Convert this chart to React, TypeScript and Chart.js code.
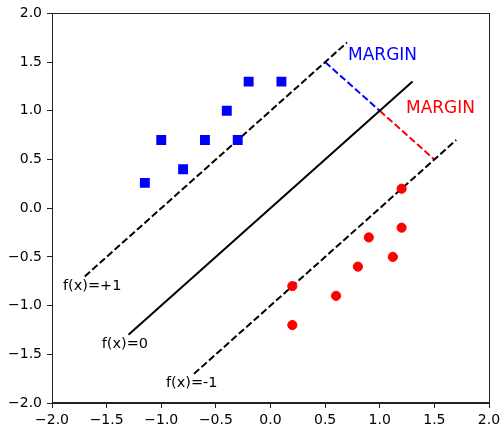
import React, { useEffect, useRef } from "react";
import { Chart, registerables } from "chart.js";

Chart.register(...registerables);

// Class +1 (blue squares)
const blueX = [-1.15, -1.0, -0.8, -0.6, -0.4, -0.3, -0.2, 0.1];
const blueY = [0.26, 0.7, 0.4, 0.7, 1.0, 0.7, 1.3, 1.3];
// Class -1 (red circles)
const redX = [0.2, 0.2, 0.6, 0.8, 0.9, 1.12, 1.2, 1.2];
const redY = [-0.8, -1.2, -0.9, -0.6, -0.3, -0.5, -0.2, 0.2];
// Decision boundary f(x)=0 and margins f(x)=+1, f(x)=-1
const zeroX = [-1.3, 1.3];
const zeroY = [-1.3, 1.3];
const plusX = [-1.7, 0.7];
const plusY = [-0.7, 1.7];
const minusX = [-0.7, 1.7];
const minusY = [-1.7, 0.7];
// Margin segments
const marginBlueX = [0.5, 1.0];
const marginBlueY = [1.5, 1.0];
const marginRedX = [1.0, 1.5];
const marginRedY = [1.0, 0.5];
// Tick values
const tickValues = [-2.0, -1.5, -1.0, -0.5, 0.0, 0.5, 1.0, 1.5, 2.0];
// Text annotations (data coordinates)
const noteTexts = ["f(x)=+1", "f(x)=0", "f(x)=-1", "MARGIN", "MARGIN"];
const noteX = [-1.9, -1.545, -0.957, 0.71, 1.24];
const noteY = [-0.8, -1.395, -1.8, 1.57, 1.02];
const noteColors = ["#000000", "#000000", "#000000", "#0000ff", "#ff0000"];
const noteSizes = [14.5, 14.5, 14.5, 17, 17];

const zip = (xs: number[], ys: number[]) => xs.map((x, i) => ({ x, y: ys[i] }));
const fmt = (v: number) => (v < 0 ? "\u2212" : "") + Math.abs(v).toFixed(1);

const FONT = "'DejaVu Sans', sans-serif";

export default function App() {
  const ref = useRef<HTMLCanvasElement | null>(null);

  useEffect(() => {
    if (!ref.current) return;

    const framePlugin = {
      id: "frame",
      afterDraw(chart: any) {
        const { ctx, chartArea } = chart;
        ctx.save();
        ctx.strokeStyle = "#222";
        ctx.lineWidth = 1;
        ctx.strokeRect(
          Math.round(chartArea.left) + 0.5,
          Math.round(chartArea.top) + 0.5,
          Math.round(chartArea.right - chartArea.left),
          Math.round(chartArea.bottom - chartArea.top) - 1
        );
        ctx.restore();
      },
    };

    const notesPlugin = {
      id: "notes",
      afterDatasetsDraw(chart: any) {
        const { ctx } = chart;
        const xs = chart.scales.x;
        const ys = chart.scales.y;
        ctx.save();
        ctx.textAlign = "left";
        ctx.textBaseline = "middle";
        noteTexts.forEach((t, i) => {
          ctx.font = `${noteSizes[i]}px ${FONT}`;
          ctx.fillStyle = noteColors[i];
          ctx.fillText(t, xs.getPixelForValue(noteX[i]), ys.getPixelForValue(noteY[i]));
        });
        ctx.restore();
      },
    };

    const lineDs = (data: any[], color: string, dashed: boolean) => ({
      type: "line" as const,
      data,
      borderColor: color,
      borderWidth: 2,
      borderDash: dashed ? [7, 3] : [],
      pointRadius: 0,
      showLine: true,
      fill: false,
      tension: 0,
      order: 2,
    });

    const scaleOpts = (axis: "x" | "y") => ({
      type: "linear" as const,
      min: -2,
      max: 2,
      afterBuildTicks: (scale: any) => {
        scale.ticks = tickValues.map((v) => ({ value: v }));
      },
      afterFit: (scale: any) => {
        if (axis === "y") scale.width = 52;
        else {
          scale.height = 24;
          scale.paddingRight = 0;
          scale.paddingLeft = 0;
        }
      },
      grid: {
        display: true,
        drawOnChartArea: false,
        drawTicks: true,
        tickLength: 5,
        tickWidth: 1,
        tickColor: "#222",
        color: "#222",
      },
      border: { display: true, color: "#222", width: 1 },
      ticks: {
        color: "#000",
        font: { family: FONT, size: 14 },
        padding: axis === "y" ? 5 : 4,
        maxRotation: 0,
        autoSkip: false,
        callback: (v: any) => fmt(Number(v)),
      },
    });

    const chart = new Chart(ref.current, {
      type: "scatter",
      data: {
        datasets: [
          {
            data: zip(blueX, blueY),
            pointStyle: "rect",
            pointRadius: 7,
            pointBorderWidth: 0,
            backgroundColor: "#0000ff",
            borderColor: "#0000ff",
            order: 0,
          } as any,
          {
            data: zip(redX, redY),
            pointStyle: "circle",
            pointRadius: 4.6,
            pointBorderWidth: 1,
            backgroundColor: "#ff0000",
            borderColor: "#ff0000",
            order: 0,
          } as any,
          lineDs(zip(zeroX, zeroY), "#000000", false),
          lineDs(zip(plusX, plusY), "#000000", true),
          lineDs(zip(minusX, minusY), "#000000", true),
          lineDs(zip(marginBlueX, marginBlueY), "#0000ff", true),
          lineDs(zip(marginRedX, marginRedY), "#ff0000", true),
        ],
      },
      options: {
        responsive: false,
        animation: false,
        devicePixelRatio: 1,
        layout: { padding: { left: 0, top: 13, right: 13, bottom: 0 } },
        plugins: {
          legend: { display: false },
          tooltip: { enabled: false },
        },
        scales: {
          x: scaleOpts("x"),
          y: scaleOpts("y"),
        },
      } as any,
      plugins: [framePlugin, notesPlugin],
    });

    return () => chart.destroy();
  }, []);

  return (
    <div style={{ position: "absolute", left: 0, top: 0, width: 502, height: 427, background: "#fff" }}>
      <canvas ref={ref} width={502} height={427} style={{ width: 502, height: 427, display: "block" }} />
    </div>
  );
}
